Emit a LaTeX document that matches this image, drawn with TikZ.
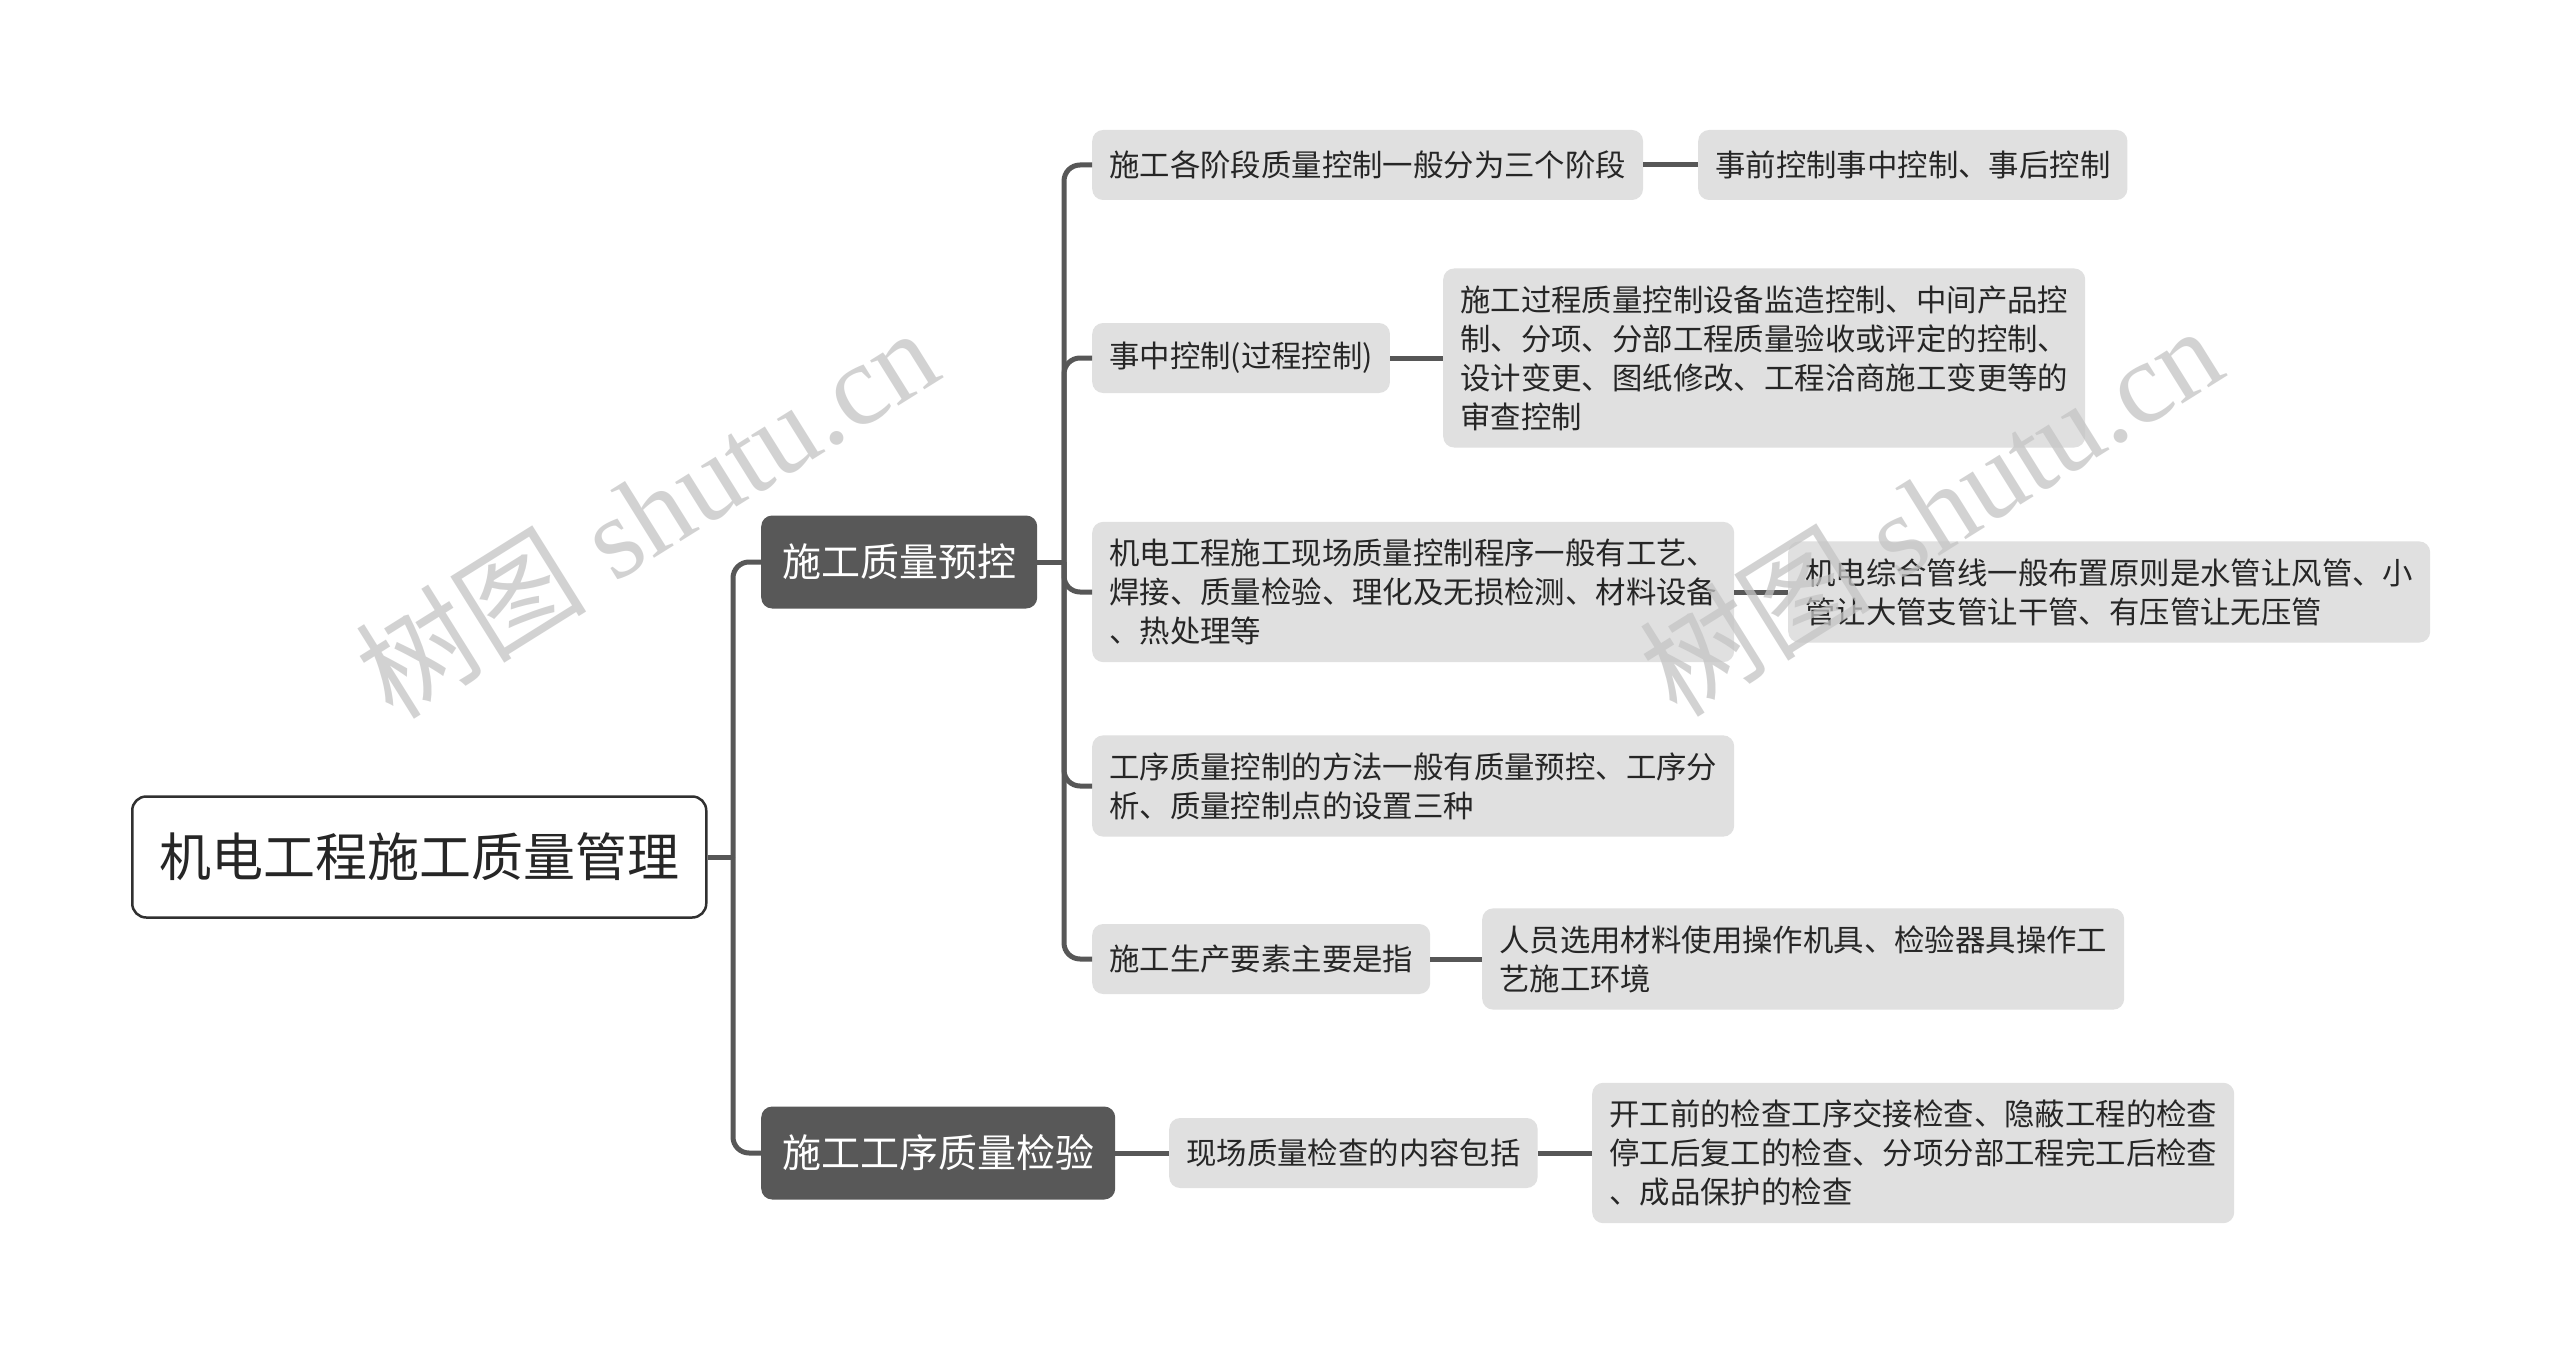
\documentclass[tikz,border=0pt]{standalone}
\usepackage{fontspec}
\setmainfont{Liberation Serif}
\newfontfamily\cjk{Noto Sans CJK SC}
\definecolor{txt}{HTML}{262626}
\definecolor{lonefill}{HTML}{585858}
\definecolor{ltwofill}{HTML}{E0E0E0}
\definecolor{connc}{HTML}{575757}
\definecolor{rootb}{HTML}{303030}
\definecolor{wmark}{HTML}{C4C4C4}
\tikzset{
  rootbox/.style={draw=rootb, line width=2.5pt, fill=white, rounded corners=14pt,
    font=\cjk\fontsize{52}{60}\selectfont, text=txt, inner xsep=27pt, minimum height=121pt, anchor=west},
  lonebox/.style={fill=lonefill, rounded corners=11pt, text=white,
    font=\cjk\fontsize{39}{46}\selectfont, inner xsep=21pt, minimum height=93pt, anchor=west},
  ltwobox/.style={fill=ltwofill, rounded corners=11pt, text=txt, align=left,
    font=\cjk\fontsize{30.4}{39}\selectfont, inner xsep=17pt, inner ysep=17pt, minimum height=70pt, anchor=west},
  conn/.style={draw=connc, line width=5pt, rounded corners=16pt},
  wm/.style={text=wmark, opacity=0.75, rotate=32, font=\fontsize{116}{124}\selectfont}
}
\begin{document}
\begin{tikzpicture}[x=1pt,y=-1pt]
\useasboundingbox (0,0) rectangle (2560,1359);
\fill[white] (0,0) rectangle (2560,1359);

\node[rootbox] (root) at (131,857) {机电工程施工质量管理};
\node[lonebox] (A) at (761,562) {施工质量预控};
\node[lonebox] (B) at (761,1153) {施工工序质量检验};

\node[ltwobox] (c1) at (1092,165) {施工各阶段质量控制一般分为三个阶段};
\node[ltwobox] (d1) at (1698,165) {事前控制事中控制、事后控制};
\node[ltwobox] (c2) at (1092,358) {事中控制(过程控制)};
\node[ltwobox] (d2) at (1443,358) {施工过程质量控制设备监造控制、中间产品控\\制、分项、分部工程质量验收或评定的控制、\\设计变更、图纸修改、工程洽商施工变更等的\\审查控制};
\node[ltwobox] (c3) at (1092,592) {机电工程施工现场质量控制程序一般有工艺、\\焊接、质量检验、理化及无损检测、材料设备\\、热处理等};
\node[ltwobox] (d3) at (1788,592) {机电综合管线一般布置原则是水管让风管、小\\管让大管支管让干管、有压管让无压管};
\node[ltwobox] (c4) at (1092,786) {工序质量控制的方法一般有质量预控、工序分\\析、质量控制点的设置三种};
\node[ltwobox] (c5) at (1092,959) {施工生产要素主要是指};
\node[ltwobox] (d5) at (1482,959) {人员选用材料使用操作机具、检验器具操作工\\艺施工环境};
\node[ltwobox] (e1) at (1169,1153) {现场质量检查的内容包括};
\node[ltwobox] (f1) at (1592,1153) {开工前的检查工序交接检查、隐蔽工程的检查\\停工后复工的检查、分项分部工程完工后检查\\、成品保护的检查};

\coordinate (j0) at (733,857);
\coordinate (j1) at (1064,562);

\draw[conn] (root.east) -- (j0);
\draw[conn] (j0) |- (A.west);
\draw[conn] (j0) |- (B.west);
\draw[conn] (A.east) -- (j1);
\foreach \n in {c1,c2,c3,c4,c5} { \draw[conn] (j1) |- (\n.west); }
\draw[conn] (c1.east) -- (d1.west);
\draw[conn] (c2.east) -- (d2.west);
\draw[conn] (c3.east) -- (d3.west);
\draw[conn] (c5.east) -- (d5.west);
\draw[conn] (B.east) -- (e1.west);
\draw[conn] (e1.east) -- (f1.west);

\node[wm] (w1) at (646,512) {{\cjk 树图} shutu.cn};
\node[wm] (w2) at (1930,510) {{\cjk 树图} shutu.cn};
\end{tikzpicture}
\end{document}
